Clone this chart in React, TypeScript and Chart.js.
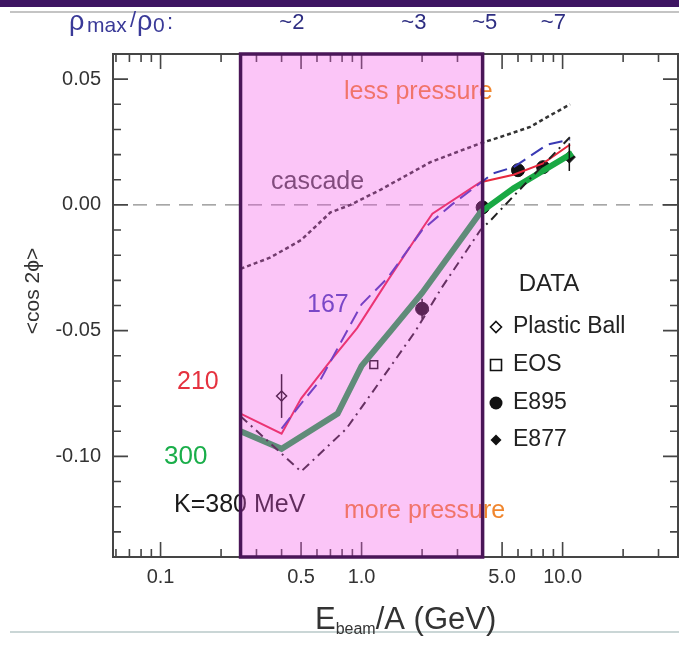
import React, { useEffect, useRef } from "react";
import { Chart, registerables } from "chart.js";

Chart.register(...registerables);

// ---------- data ----------
const cascadeE = [0.25, 0.35, 0.5, 0.7, 0.88, 1.24, 2.2, 3.9, 4.9, 6.9, 8.0, 10.9];
const cascadeV = [-0.0254, -0.021, -0.014, -0.003, 0.0, 0.006, 0.017, 0.0245, 0.027, 0.031, 0.034, 0.040];

const k210E = [0.25, 0.4, 0.5, 0.7, 0.95, 1.35, 2.0, 2.25, 3.9, 5.7, 8.0, 10.9];
const k210V = [-0.083, -0.091, -0.077, -0.062, -0.049, -0.030, -0.0095, -0.0035, 0.009, 0.012, 0.0165, 0.024];

const k167E = [0.4, 0.5, 0.62, 1.0, 1.35, 2.0, 2.8, 4.5, 5.7, 8.4, 10.9];
const k167V = [-0.089, -0.079, -0.070, -0.0395, -0.029, -0.010, 0.0, 0.0125, 0.015, 0.024, 0.026];

const k300E = [0.25, 0.4, 0.76, 1.0, 1.4, 2.0, 3.9, 5.7, 8.4, 11.2];
const k300V = [-0.090, -0.097, -0.083, -0.064, -0.050, -0.035, -0.003, 0.0066, 0.0146, 0.0206];

const k380E = [0.25, 0.5, 0.84, 1.24, 1.86, 2.5, 3.9, 4.4, 7.0, 10.9];
const k380V = [-0.084, -0.106, -0.089, -0.070, -0.050, -0.033, -0.010, -0.006, 0.011, 0.027];

const plasticE = [0.4];
const plasticV = [-0.076];
const plasticErr = [0.0087];

const eosE = [1.15];
const eosV = [-0.0635];

const e895E = [2.0, 4.0, 6.0, 8.0];
const e895V = [-0.0413, -0.001, 0.0138, 0.015];
const e895Err = [0.004, 0.0, 0.0, 0.0];

const e877E = [10.8];
const e877V = [0.019];
const e877Err = [0.0055];

const xTickLabels = ["0.1", "0.5", "1.0", "5.0", "10.0"];
const xTickValues = [0.1, 0.5, 1.0, 5.0, 10.0];
const yTickValues = [0.05, 0.0, -0.05, -0.1];
const yTickLabels = ["0.05", "0.00", "-0.05", "-0.10"];

const densityLabels = ["~2", "~3", "~5", "~7"];
const densityE = [0.45, 1.82, 4.1, 9.0];

const legendNames = ["Plastic Ball", "EOS", "E895", "E877"];

const pressureBand = [0.25, 4.0];

const X_MIN = 0.058;
const X_MAX = 37.5;
const Y_MIN = -0.14;
const Y_MAX = 0.06;

const FONT = '"Liberation Sans", Arial, Helvetica, sans-serif';

const pts = (xs: number[], ys: number[]) => xs.map((x, i) => ({ x, y: ys[i] }));

function drawMarker(ctx: CanvasRenderingContext2D, kind: string, x: number, y: number, r: number) {
  ctx.save();
  ctx.lineWidth = 1.6;
  ctx.strokeStyle = "#111";
  ctx.fillStyle = "#111";
  ctx.beginPath();
  if (kind === "diamondOpen" || kind === "diamond") {
    ctx.moveTo(x, y - r);
    ctx.lineTo(x + r, y);
    ctx.lineTo(x, y + r);
    ctx.lineTo(x - r, y);
    ctx.closePath();
  } else if (kind === "square") {
    ctx.rect(x - r, y - r, 2 * r, 2 * r);
  } else {
    ctx.arc(x, y, r, 0, Math.PI * 2);
  }
  if (kind === "diamondOpen" || kind === "square") ctx.stroke();
  else ctx.fill();
  ctx.restore();
}

const decoPlugin = {
  id: "deco",
  beforeDatasetsDraw(chart: any) {
    const { ctx, chartArea: a, scales } = chart;
    const y0 = scales.y.getPixelForValue(0);
    ctx.save();
    ctx.strokeStyle = "#8a8a8a";
    ctx.lineWidth = 1.2;
    ctx.setLineDash([14, 9]);
    ctx.beginPath();
    ctx.moveTo(a.left + 20, y0);
    ctx.lineTo(a.right, y0);
    ctx.stroke();
    ctx.restore();
  },
  afterDatasetsDraw(chart: any) {
    const { ctx, chartArea: a, scales } = chart;
    const xs = scales.x;
    const ys = scales.y;
    ctx.save();
    // error bars
    ctx.strokeStyle = "#111";
    ctx.lineWidth = 1.5;
    const bars = (E: number[], V: number[], Er: number[]) => {
      E.forEach((e, i) => {
        if (!Er[i]) return;
        const px = xs.getPixelForValue(e);
        ctx.beginPath();
        ctx.moveTo(px, ys.getPixelForValue(V[i] + Er[i]));
        ctx.lineTo(px, ys.getPixelForValue(V[i] - Er[i]));
        ctx.stroke();
      });
    };
    bars(plasticE, plasticV, plasticErr);
    bars(e895E, e895V, e895Err);
    bars(e877E, e877V, e877Err);

    // text labels (under the band overlay)
    const txt = (s: string, x: number, y: number, size: number, color: string, align: CanvasTextAlign = "left") => {
      ctx.font = `${size}px ${FONT}`;
      ctx.fillStyle = color;
      ctx.textAlign = align;
      ctx.textBaseline = "middle";
      ctx.fillText(s, x, y);
    };
    txt("less pressure", 344, 92, 25, "#f0862e");
    txt("more pressure", 344, 511, 25, "#f0862e");
    txt("cascade", 271, 182, 25, "#4a4a4a");
    txt("167", 307, 305, 25, "#3f44b8");
    txt("210", 177, 382, 25, "#e5323f");
    txt("300", 164, 457, 26, "#1aae4a");
    txt("K=380 MeV", 174, 505, 25, "#1a1a1a");

    // frame
    ctx.strokeStyle = "#454545";
    ctx.lineWidth = 2;
    ctx.setLineDash([]);
    ctx.strokeRect(a.left, a.top, a.right - a.left, a.bottom - a.top);
    // x ticks
    ctx.lineWidth = 1.6;
    for (let d = -2; d <= 2; d++) {
      for (let m = 1; m <= 9; m++) {
        const v = m * Math.pow(10, d);
        if (v < X_MIN || v > X_MAX) continue;
        const px = xs.getPixelForValue(v);
        const long = m === 1 || m === 5;
        const len = long ? 15 : 8;
        ctx.beginPath();
        ctx.moveTo(px, a.bottom);
        ctx.lineTo(px, a.bottom - len);
        ctx.moveTo(px, a.top);
        ctx.lineTo(px, a.top + len);
        ctx.stroke();
      }
    }
    // y ticks
    for (let k = -14; k <= 6; k++) {
      const v = k / 100;
      const py = ys.getPixelForValue(v);
      const long = k % 5 === 0;
      const len = long ? 15 : 8;
      ctx.beginPath();
      ctx.moveTo(a.left, py);
      ctx.lineTo(a.left + len, py);
      ctx.moveTo(a.right, py);
      ctx.lineTo(a.right - len, py);
      ctx.stroke();
    }

    // pressure band overlay
    const bx0 = xs.getPixelForValue(pressureBand[0]);
    const bx1 = xs.getPixelForValue(pressureBand[1]);
    ctx.fillStyle = "rgba(242, 78, 232, 0.33)";
    ctx.fillRect(bx0, a.top, bx1 - bx0, a.bottom - a.top);
    ctx.strokeStyle = "#4a1658";
    ctx.lineWidth = 3.5;
    ctx.strokeRect(bx0, a.top, bx1 - bx0, a.bottom - a.top);
    ctx.restore();
  },
  afterDraw(chart: any) {
    const { ctx, scales } = chart;
    const xs = scales.x;
    const ys = scales.y;
    ctx.save();
    ctx.textBaseline = "middle";
    // top banner & rules
    ctx.fillStyle = "#3e1562";
    ctx.fillRect(0, 0, 679, 7);
    ctx.strokeStyle = "#b0b0b0";
    ctx.lineWidth = 1.5;
    ctx.beginPath();
    ctx.moveTo(10, 12);
    ctx.lineTo(679, 12);
    ctx.stroke();
    ctx.strokeStyle = "#b9c9c9";
    ctx.beginPath();
    ctx.moveTo(10, 632);
    ctx.lineTo(679, 632);
    ctx.stroke();

    // density header
    ctx.fillStyle = "#3a3a98";
    ctx.textAlign = "left";
    const seg = (s: string, x: number, size: number, dy: number) => {
      ctx.font = `${size}px ${FONT}`;
      ctx.fillText(s, x, 23 + dy);
    };
    seg("ρ", 69, 27, 0);
    seg("max", 87, 21, 3);
    seg("/", 130, 22, -2);
    seg("ρ", 137, 27, 0);
    seg("0", 153, 21, 3);
    seg(":", 167, 22, 0);
    ctx.textAlign = "center";
    ctx.font = `22px ${FONT}`;
    ctx.fillStyle = "#2e2e82";
    densityLabels.forEach((s, i) => ctx.fillText(s, xs.getPixelForValue(densityE[i]), 23));

    // tick labels
    ctx.fillStyle = "#333";
    ctx.font = `20px ${FONT}`;
    ctx.textAlign = "center";
    xTickValues.forEach((v, i) => ctx.fillText(xTickLabels[i], xs.getPixelForValue(v), 577));
    ctx.textAlign = "right";
    yTickValues.forEach((v, i) => ctx.fillText(yTickLabels[i], 101, ys.getPixelForValue(v)));

    // y title
    ctx.save();
    ctx.translate(33, 291);
    ctx.rotate(-Math.PI / 2);
    ctx.textAlign = "center";
    ctx.font = `21px ${FONT}`;
    ctx.fillText("<cos 2ϕ>", 0, 0);
    ctx.restore();

    // x title
    ctx.textAlign = "left";
    ctx.fillStyle = "#333";
    let tx = 315;
    ctx.font = `31px ${FONT}`;
    ctx.fillText("E", tx, 620);
    tx += ctx.measureText("E").width;
    ctx.font = `16px ${FONT}`;
    ctx.fillText("beam", tx, 630);
    tx += ctx.measureText("beam").width;
    ctx.font = `31px ${FONT}`;
    ctx.fillText("/A (GeV)", tx, 620);

    // data legend
    ctx.fillStyle = "#222";
    ctx.textAlign = "center";
    ctx.font = `24px ${FONT}`;
    ctx.fillText("DATA", 549, 284);
    const kinds = ["diamondOpen", "square", "circle", "diamond"];
    const rows = [327, 365, 403, 440];
    ctx.textAlign = "left";
    ctx.font = `23px ${FONT}`;
    legendNames.forEach((n, i) => {
      drawMarker(ctx, kinds[i], 496, rows[i], kinds[i] === "circle" ? 6.5 : 5.5);
      ctx.fillStyle = "#222";
      ctx.fillText(n, 513, rows[i]);
    });
    ctx.restore();
  },
};

export default function App() {
  const ref = useRef<HTMLCanvasElement | null>(null);
  useEffect(() => {
    if (!ref.current) return;
    const line = (data: any, color: string, width: number, dash: number[]) => ({
      data,
      showLine: true,
      borderColor: color,
      borderWidth: width,
      borderDash: dash,
      pointRadius: 0,
      fill: false,
      tension: 0,
    });
    const chart = new Chart(ref.current, {
      type: "scatter",
      data: {
        datasets: [
          line(pts(cascadeE, cascadeV), "#333333", 2.5, [4, 3]),
          line(pts(k380E, k380V), "#222222", 2, [9, 5, 2, 5]),
          line(pts(k300E, k300V), "#19a944", 6, []),
          line(pts(k167E, k167V), "#3a3ab4", 2, [14, 7]),
          line(pts(k210E, k210V), "#e8283c", 2, []),
          {
            data: pts(plasticE, plasticV),
            pointStyle: "rectRot",
            pointRadius: 5,
            borderColor: "#111",
            backgroundColor: "rgba(0,0,0,0)",
            borderWidth: 1.5,
          },
          {
            data: pts(eosE, eosV),
            pointStyle: "rect",
            pointRadius: 5.5,
            borderColor: "#111",
            backgroundColor: "rgba(0,0,0,0)",
            borderWidth: 1.5,
          },
          {
            data: pts(e895E, e895V),
            pointStyle: "circle",
            pointRadius: 6.5,
            borderColor: "#111",
            backgroundColor: "#111",
            borderWidth: 1,
          },
          {
            data: pts(e877E, e877V),
            pointStyle: "rectRot",
            pointRadius: 6,
            borderColor: "#111",
            backgroundColor: "#111",
            borderWidth: 1,
          },
        ] as any,
      },
      options: {
        responsive: false,
        animation: false,
        layout: { autoPadding: false, padding: { left: 113, right: 1, top: 54, bottom: 88 } },
        plugins: { legend: { display: false }, tooltip: { enabled: false } },
        scales: {
          x: { type: "logarithmic", min: X_MIN, max: X_MAX, display: false },
          y: { type: "linear", min: Y_MIN, max: Y_MAX, display: false },
        },
      },
      plugins: [decoPlugin],
    });
    return () => chart.destroy();
  }, []);
  return (
    <div style={{ position: "absolute", left: 0, top: 0, width: 679, height: 645, background: "#fff" }}>
      <canvas ref={ref} width={679} height={645} style={{ display: "block" }} />
    </div>
  );
}
